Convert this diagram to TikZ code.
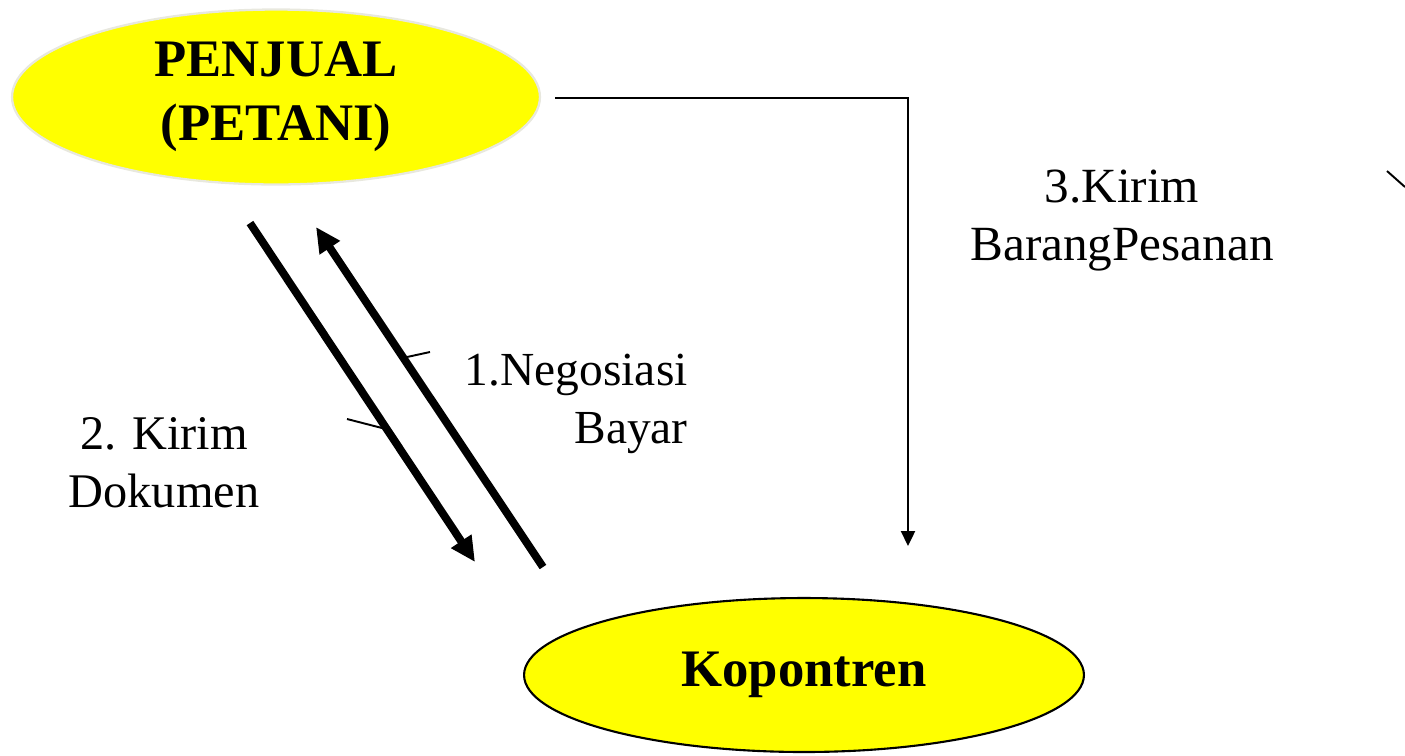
\documentclass[tikz,border=0pt]{standalone}
\usepackage{fontspec}
\setmainfont{Liberation Serif}
\usetikzlibrary{shapes.geometric, arrows.meta, positioning}
\definecolor{kuning}{RGB}{255,255,0}
\definecolor{abu}{RGB}{232,232,222}

\begin{document}
\begin{tikzpicture}[
  x=0.02cm, y=-0.02cm,
  ov/.style={ellipse, fill=kuning, inner sep=0pt, align=center, font=\bfseries\fontsize{30}{36.3}\selectfont},
  el/.style={font=\fontsize{27}{33.2}\selectfont, align=center, inner sep=0pt},
  ar/.style={-{Triangle[length=5mm, width=4.6mm]}, line width=4.5pt},
  tn/.style={-{Triangle[length=3mm, width=2.8mm]}, line width=1.3pt},
  tk/.style={line width=1.1pt}
]
\useasboundingbox (0,0) rectangle (1405,755);

% the two parties
\node[ov, draw=abu, line width=1.3pt, minimum width=10.56cm, minimum height=3.5cm] (penjual) at (276,97) {PENJUAL\\(PETANI)};
\node[ov, draw=black, line width=1.2pt, minimum width=11.2cm, minimum height=3.08cm] (kop) at (804,675) {Kopontren};

% end points of the flows
\coordinate (dok1) at (250,223);
\coordinate (dok2) at (475,562);
\coordinate (neg1) at (543,567);
\coordinate (neg2) at (316,227);
\coordinate (brg1) at (555,98);
\coordinate (brg2) at (908,546);

\draw[ar] (dok1) -- (dok2);
\draw[ar] (neg1) -- (neg2);
\draw[tn] (brg1) -| (brg2);

% leader ticks
\coordinate (t1a) at (407,357);
\coordinate (t1b) at (430,352);
\coordinate (t2a) at (347,419);
\coordinate (t2b) at (382,428);
\draw[tk] (t1a) -- (t1b);
\draw[tk] (t2a) -- (t2b);
\coordinate (ra) at (1387,171);
\coordinate (rb) at (1405,187);
\draw[tk] (ra) -- (rb);

% labels
\node[el, font=\fontsize{28}{33}\selectfont] (lbarang) at (1122,221) {3.Kirim\\BarangPesanan};
\node[el, align=right, anchor=east] (lneg) at (688,404) {1.Negosiasi\\Bayar};
\node[el, font=\fontsize{27.5}{33}\selectfont] (ldok) at (164,463) {2. Kirim\\Dokumen};
\end{tikzpicture}
\end{document}
